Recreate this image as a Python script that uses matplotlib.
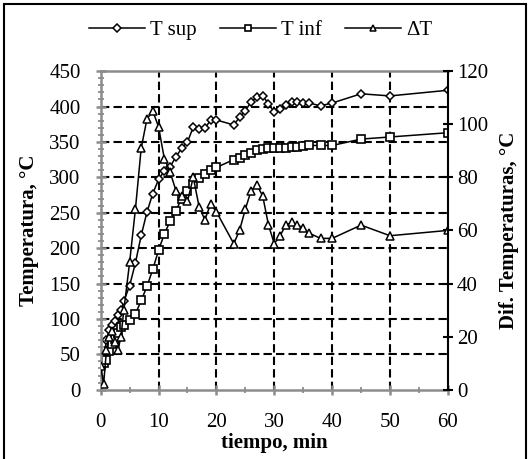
import matplotlib
matplotlib.use("Agg")
import matplotlib.pyplot as plt
from matplotlib.patches import Rectangle

# datos
tiempo = [0, 0.5, 1, 1.5, 2, 2.5, 3, 3.5, 4, 5, 6, 7, 8, 9, 10, 11, 12, 13, 14, 15,
          16, 17, 18, 19, 20, 23, 24, 25, 26, 27, 28, 29, 30, 31, 32, 33, 34, 35,
          36, 38, 40, 45, 50, 60]
t_sup = [32, 45, 70, 85, 92, 97, 105, 112, 125, 147, 179, 218, 251, 277, 297, 309, 315,
         329, 341, 350, 371, 368, 369, 381, 381, 374, 385, 394, 407, 413, 415, 404,
         392, 397, 402, 406, 407, 405, 405, 401, 405, 418, 415, 423]
t_inf = [36, 38, 42, 55, 65, 72, 80, 88, 92, 98, 107, 126, 146, 170, 197, 220, 238,
         253, 270, 280, 291, 299, 305, 311, 314, 325, 328, 331, 335, 338, 340, 341,
         341, 342, 342, 343, 343, 344, 345, 345, 345, 354, 357, 363]
delta_t = [9, 2, 15, 20, 22, 18, 15, 20, 30, 48, 68, 91, 102, 105, 99, 87, 82, 75, 73,
           71, 80, 69, 64, 70, 67, 55, 60, 68, 75, 77, 73, 62, 55, 58, 62, 63, 62, 61,
           59, 57, 57, 62, 58, 60]

x_ticks = [0, 10, 20, 30, 40, 50, 60]
y_ticks = [0, 50, 100, 150, 200, 250, 300, 350, 400, 450]
y2_ticks = [0, 20, 40, 60, 80, 100, 120]

plt.rcParams['font.family'] = ['Liberation Serif', 'DejaVu Serif']
plt.rcParams['font.size'] = 15

gris = '#8c8c8c'

fig = plt.figure(figsize=(5.3, 4.59), dpi=100)
ax = fig.add_axes([0.1900, 0.1510, 0.655, 0.694])
ax2 = ax.twinx()

# rejilla a trazos
for xv in x_ticks[1:-1]:
    ax.axvline(xv, color='black', lw=1.5, ls=(0, (4, 2)), zorder=0.5)
for yv in y_ticks[1:-1]:
    ax.axhline(yv, color='black', lw=1.5, ls=(0, (4, 2)), zorder=0.5)

l1, = ax.plot(tiempo, t_sup, color='black', lw=1.1, marker='D', ms=4.3,
              mfc='white', mec='black', mew=1.1, label='T sup')
l2, = ax.plot(tiempo, t_inf, color='black', lw=1.1, marker='s', ms=5.8,
              mfc='white', mec='black', mew=1.2, label='T inf')
l3, = ax2.plot(tiempo, delta_t, color='black', lw=1.1, marker='^', ms=5.8,
               mfc='white', mec='black', mew=1.1, label='ΔT')

ax.set_xlim(0, 60)
ax.set_ylim(0, 450)
ax2.set_ylim(0, 120)
ax.set_xticks(x_ticks)
ax.set_yticks(y_ticks)
ax2.set_yticks(y2_ticks)
ax.set_xticks(range(0, 61, 5), minor=True)
ax.set_yticks(range(0, 451, 10), minor=True)

for s in ['left', 'bottom', 'top']:
    ax.spines[s].set_color(gris)
    ax.spines[s].set_linewidth(1.8)
ax.spines['right'].set_visible(False)
for s in ['left', 'bottom', 'top']:
    ax2.spines[s].set_visible(False)
ax2.spines['right'].set_color('black')
ax2.spines['right'].set_linewidth(1.5)

ax.tick_params(axis='both', which='major', direction='inout', length=7, width=1.8,
               color=gris, labelcolor='black')
ax.tick_params(axis='both', which='minor', direction='inout', length=4, width=1.3,
               color=gris)
ax.tick_params(axis='y', which='major', pad=11)
ax.tick_params(axis='x', which='major', pad=13)
ax.tick_params(top=False, which='both')
ax2.tick_params(axis='y', direction='inout', length=7, width=1.5, color='black', pad=3)

ax.set_xlabel('tiempo, min', fontweight='bold', labelpad=1)
ax.set_ylabel('Temperatura, °C', fontweight='bold', labelpad=7)
ax2.set_ylabel('Dif. Temperaturas, °C', fontweight='bold', labelpad=8)

fig.legend(handles=[l1, l2, l3], loc='center', bbox_to_anchor=(0.492, 0.934),
           ncol=3, frameon=False, handlelength=2.7, handletextpad=0.25,
           columnspacing=1.1, markerscale=0.85)

fig.patches.append(Rectangle((0.008, -0.01), 0.985, 1.001, transform=fig.transFigure,
                             fill=False, edgecolor='black', lw=1.5))

fig.savefig('out.png', dpi=100)
